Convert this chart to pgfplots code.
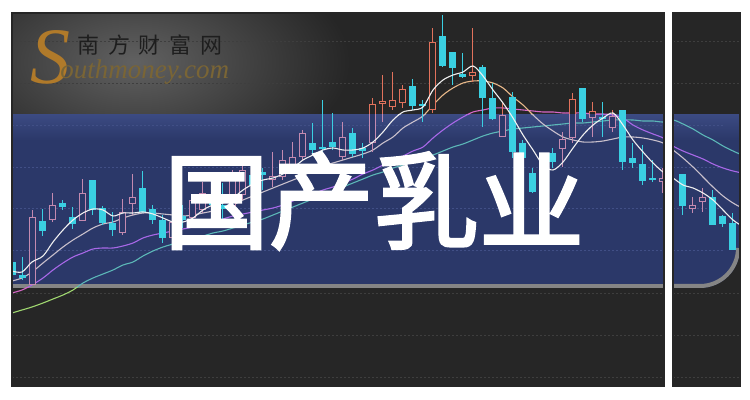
\documentclass[border=0pt]{standalone}
\usepackage{pgfplots}
\pgfplotsset{compat=1.18}
\usepackage{pgfplotstable}
\usepackage{fontspec}
\setmainfont{Liberation Serif}
\newfontfamily\cjk{Noto Sans CJK SC}[LetterSpace=40]
\newfontfamily\cjkbig{Noto Sans CJK SC}[FakeBold=2.5]

\definecolor{bgdark}{HTML}{262626}
\definecolor{glow}{HTML}{616161}
\definecolor{banner}{HTML}{2B3869}
\definecolor{bannerhi}{HTML}{3B4A82}
\definecolor{gridd}{HTML}{3E3E3E}
\definecolor{gridb}{HTML}{414F86}
\definecolor{edgegray}{HTML}{858585}
\definecolor{candcyan}{HTML}{3AD0E2}
\definecolor{upred}{HTML}{E2725C}
\definecolor{uppink}{HTML}{C48AB0}
\definecolor{maten}{HTML}{E9B98A}
\definecolor{matenb}{HTML}{C9C0CC}
\definecolor{matw}{HTML}{D868C8}
\definecolor{matwb}{HTML}{A868E8}
\definecolor{masix}{HTML}{60C8C0}
\definecolor{masixb}{HTML}{5CB8B8}
\definecolor{masixl}{HTML}{A0D870}
\definecolor{wmdark}{HTML}{1E1E1E}
\definecolor{gold}{HTML}{B07A2A}
\definecolor{goldtxt}{HTML}{7A6535}

% candles, pixel y from the top: body top/bottom, wick high/low
\pgfplotstableread{
x top bot hi lo
32.5 217 285 210 285
52.5 205 220 193 222
82.5 193 221 179 221
122.5 212 233 199 235
132.5 197 204 174 215
172.5 222 238 215 242
192.5 200 218 195 222
202.5 193 210 182 213
232.5 178 206 170 210
242.5 170 195 165 200
272.5 176 180 152 187
282.5 160 177 150 180
292.5 157 165 142 168
302.5 133 157 130 160
342.5 137 157 122 160
372.5 104 143 98 152
382.5 101 104 75 122
392.5 100 107 72 110
402.5 89 103 85 108
432.5 42 110 28 113
472.5 72 76 28 82
502.5 115 137 102 137
562.5 139 149 132 167
572.5 99 138 93 143
592.5 111 118 102 137
612.5 116 128 110 132
662.5 178 182 168 193
692.5 205 209 197 213
702.5 197 202 188 212
}\updata

\pgfplotstableread{
x top bot hi lo
12.5 262 275 258 278
22.5 275 278 257 280
42.5 221 231 209 236
62.5 203 207 200 210
72.5 217 224 207 229
92.5 180 210 180 215
102.5 208 223 206 225
112.5 223 230 212 236
142.5 188 212 171 213
152.5 209 220 205 224
162.5 220 238 215 243
182.5 216 220 205 228
212.5 195 205 188 210
222.5 205 209 183 222
252.5 175 185 170 190
262.5 172 175 168 190
312.5 143 150 123 155
322.5 147 149 100 152
332.5 142 147 113 150
352.5 133 154 128 157
362.5 148 151 143 158
412.5 86 106 79 110
422.5 104 106 100 122
442.5 36 66 15 67
452.5 52 68 52 85
462.5 74 77 53 78
482.5 67 98 65 127
492.5 98 119 83 120
512.5 97 152 92 158
522.5 143 158 140 165
532.5 173 192 168 193
542.5 162 170 155 175
552.5 153 162 148 168
582.5 88 119 88 122
602.5 117 119 102 137
622.5 110 162 110 170
632.5 158 163 143 168
642.5 164 181 145 185
652.5 178 180 160 182
682.5 174 206 174 215
712.5 197 225 190 225
722.5 216 224 215 227
732.5 223 250 213 250
}\dndata

% moving averages (pixel y)
\pgfplotstableread{
x y
12 271
22 272
32 262
43 256
53 242
63 230
73 220
83 213
93 209
103 210
113 216
123 213
133 213
143 212
153 214
163 218
173 222
183 222
193 218
203 210
213 205
223 203
233 198
243 190
253 184
263 180
273 178
283 174
293 168
303 160
313 155
323 150
333 148
343 150
353 150
363 148
373 142
383 132
393 120
403 112
413 110
423 107
433 90
443 80
453 75
463 72
473 66
483 76
493 90
503 103
513 118
523 135
533 150
543 165
553 170
563 162
573 148
583 135
593 125
603 118
613 113
623 125
633 140
643 152
653 163
663 172
673 178
683 185
693 188
703 193
713 200
723 210
733 220
742 226
}\maA

\pgfplotstableread{
x y
12 281
22 278
32 272
43 263
53 255
63 247
73 240
83 234
93 228
103 224
113 222
123 218
133 215
143 213
153 213
163 214
173 215
183 216
193 215
203 213
213 211
223 208
233 205
243 200
253 196
263 192
273 188
283 184
293 180
303 176
313 170
323 166
333 163
343 160
353 157
363 154
373 150
383 143
393 137
403 128
413 122
423 116
433 105
443 95
453 88
463 83
473 81
483 81
493 83
503 88
513 97
523 105
533 115
543 124
553 131
563 137
573 140
583 142
593 142
603 141
613 139
623 137
633 137
643 138
653 140
663 143
673 150
683 158
693 167
703 177
713 187
723 196
733 203
742 208
}\maB

\pgfplotstableread{
x y
12 293
22 290
32 285
43 278
53 270
63 263
73 257
83 253
93 249
103 248
113 248
123 246
133 243
143 238
153 235
163 233
173 231
183 229
193 227
203 224
213 222
223 219
233 216
243 214
253 212
263 210
273 208
283 205
293 201
303 197
313 194
323 190
333 187
343 183
353 179
363 174
373 170
383 165
393 160
403 156
413 151
423 147
433 138
443 130
453 123
463 117
473 112
483 110
493 108
503 108
513 109
523 110
533 111
543 112
553 112
563 113
573 113
583 113
593 114
603 114
613 115
623 118
633 125
643 130
653 134
663 138
673 146
683 151
693 155
703 159
713 164
723 168
733 171
742 173
}\maC

\pgfplotstableread{
x y
12 313
22 310
32 307
43 303
53 299
63 295
73 290
83 283
93 278
103 274
113 270
123 265
133 262
143 256
153 251
163 247
173 244
183 241
193 238
203 236
213 233
223 231
233 228
243 225
253 222
263 219
273 215
283 211
293 207
303 203
313 199
323 195
333 191
343 187
353 183
363 179
373 175
383 172
393 168
403 165
413 161
423 158
433 155
443 151
453 147
463 144
473 140
483 136
493 133
503 131
513 129
523 128
533 127
543 126
553 125
563 124
573 123
583 123
593 122
603 121
613 120
623 120
633 120
643 121
653 121
663 122
673 120
683 124
693 129
703 135
713 140
723 146
733 151
742 155
}\maD

\pgfplotsset{
  panel/.style={scale only axis, hide axis, clip=true, anchor=north west},
  cs/.style={draw=none, mark=none, forget plot,
    error bars/y dir=both, error bars/y explicit, error bars/error mark=none},
  ma/.style={no marks, smooth, tension=0.5, line width=0.55pt, forget plot},
}

% #1 rising colour, #2 hollow fill, #3 MA10, #4 MA20, #5 MA60
\newcommand\chartdata[5]{%
  \addplot[ma, color=#5] table[x=x, y expr=-\thisrow{y}] {\maD};
  \addplot[ma, color=#4] table[x=x, y expr=-\thisrow{y}] {\maC};
  \addplot[ma, color=#3] table[x=x, y expr=-\thisrow{y}] {\maB};
  \addplot[cs, error bars/error bar style={draw=#1, line width=0.5pt}]
    table[x=x, y expr=-(\thisrow{hi}+\thisrow{lo})/2, y error expr=(\thisrow{lo}-\thisrow{hi})/2] {\updata};
  \addplot[cs, error bars/error bar style={draw=candcyan, line width=0.5pt}]
    table[x=x, y expr=-(\thisrow{hi}+\thisrow{lo})/2, y error expr=(\thisrow{lo}-\thisrow{hi})/2] {\dndata};
  \addplot[cs, error bars/error bar style={draw=candcyan, line width=3.5pt}]
    table[x=x, y expr=-(\thisrow{top}+\thisrow{bot})/2, y error expr={max((\thisrow{bot}-\thisrow{top})/2,0.7)}] {\dndata};
  \addplot[cs, error bars/error bar style={draw=#1, line width=3.5pt}]
    table[x=x, y expr=-(\thisrow{top}+\thisrow{bot})/2, y error expr={max((\thisrow{bot}-\thisrow{top})/2,0.7)}] {\updata};
  \addplot[cs, error bars/error bar style={draw=#2, line width=2.5pt}]
    table[x=x, y expr=-(\thisrow{top}+\thisrow{bot})/2, y error expr={max((\thisrow{bot}-\thisrow{top})/2-1,0)}] {\updata};
  \addplot[ma, color=white!94!black] table[x=x, y expr=-\thisrow{y}] {\maA};
}

\begin{document}
\begin{tikzpicture}
\begin{scope}[x=0.5pt, y=-0.5pt]
  \path[use as bounding box, fill=white] (0,0) rectangle (750,400);
  \fill[bgdark] (12,13) rectangle (664,386);
  \fill[bgdark] (673,13) rectangle (740,386);
  \begin{scope}
    \clip (12,13) rectangle (664,115);
    \shade[inner color=glow, outer color=bgdark] (135,62) ellipse [x radius=215, y radius=115];
  \end{scope}
  \foreach \gy in {41,83,293,335,377} {
    \draw[gridd, line width=0.4pt, dash pattern=on 1pt off 1pt] (12,\gy) -- (664,\gy);
    \draw[gridd, line width=0.4pt, dash pattern=on 1pt off 1pt] (673,\gy) -- (740,\gy);
  }
  % banner
  \fill[banner] (12,115) rectangle (664,288);
  \fill[banner] (673,115) -- (740,115) -- (740,248)
    arc[start angle=0, end angle=90, radius=40] -- (673,288) -- cycle;
  \fill[top color=bannerhi, bottom color=banner] (12,115) rectangle (664,140);
  \fill[top color=bannerhi, bottom color=banner] (673,115) rectangle (740,140);
  \foreach \gy in {125,167,208,250} {
    \draw[gridb, line width=0.4pt, dash pattern=on 1pt off 1pt] (12,\gy) -- (664,\gy);
    \draw[gridb, line width=0.4pt, dash pattern=on 1pt off 1pt] (673,\gy) -- (725,\gy);
  }
  \draw[edgegray, line width=2pt] (12,286) -- (664,286);
  \draw[edgegray, line width=2pt] (673,286) -- (700,286) arc[start angle=90, end angle=0, radius=38];
  \coordinate (mt) at (12,14);
  \coordinate (mm) at (12,115);
  \coordinate (ml) at (12,288);
  \coordinate (rt) at (673,14);
  \coordinate (rm) at (673,115);
  \coordinate (rl) at (673,288);
\end{scope}

\begin{axis}[panel, at={(mt)}, width=326pt, height=50.5pt, xmin=12, xmax=664, ymin=-115, ymax=-14]
  \chartdata{upred}{bgdark}{maten}{matw}{masix}
\end{axis}
\begin{axis}[panel, at={(mm)}, width=326pt, height=86.5pt, xmin=12, xmax=664, ymin=-288, ymax=-115]
  \chartdata{uppink}{banner}{matenb}{matwb}{masixb}
\end{axis}
\begin{axis}[panel, at={(ml)}, width=326pt, height=49pt, xmin=12, xmax=664, ymin=-386, ymax=-288]
  \chartdata{upred}{bgdark}{maten}{matw}{masixl}
\end{axis}
\begin{axis}[panel, at={(rt)}, width=33.5pt, height=50.5pt, xmin=673, xmax=740, ymin=-115, ymax=-14]
  \chartdata{upred}{bgdark}{maten}{matw}{masix}
\end{axis}
\begin{axis}[panel, at={(rm)}, width=33.5pt, height=86.5pt, xmin=673, xmax=740, ymin=-288, ymax=-115]
  \chartdata{uppink}{banner}{matenb}{matwb}{masixb}
\end{axis}
\begin{axis}[panel, at={(rl)}, width=33.5pt, height=49pt, xmin=673, xmax=740, ymin=-386, ymax=-288]
  \chartdata{upred}{bgdark}{maten}{matw}{masixl}
\end{axis}

\begin{scope}[x=0.5pt, y=-0.5pt]
  \draw[black!85, line width=0.8pt] (12,13) rectangle (664,386);
  \draw[black!85, line width=0.8pt] (673,13) rectangle (740,386);
  % watermark
  \node[text=gold, font=\itshape\fontsize{40}{40}\selectfont, inner sep=0] at (50,57) {S};
  \node[anchor=west, text=wmdark, font=\cjk\fontsize{11}{11}\selectfont, inner sep=0] at (77,45) {南方财富网};
  \node[anchor=base west, text=goldtxt, font=\itshape\fontsize{13.5}{13.5}\selectfont, inner sep=0] at (60,79) {outhmoney.com};
  % title
  \node[text=white, font=\cjkbig\fontsize{52.5}{52.5}\selectfont, inner sep=0] at (374,201) {国产乳业};
\end{scope}
\end{tikzpicture}
\end{document}
